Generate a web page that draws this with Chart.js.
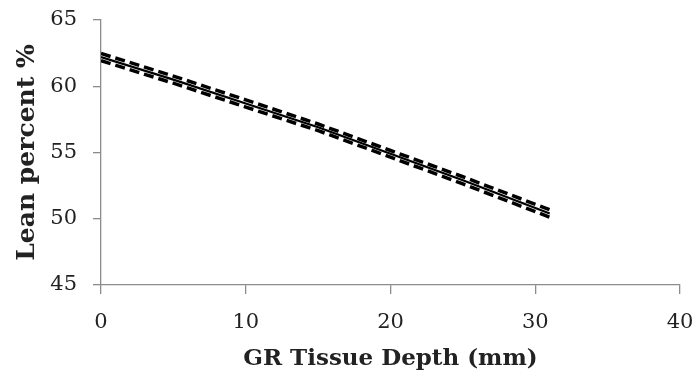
<!DOCTYPE html>
<html>
<head>
<meta charset="utf-8">
<script src="https://cdn.jsdelivr.net/npm/chart.js@4.4.0/dist/chart.umd.min.js"></script>
<style>
html,body{margin:0;padding:0;background:#fff;}
#wrap{width:697px;height:374px;position:relative;}
</style>
</head>
<body>
<div id="wrap"><canvas id="c" width="697" height="374"></canvas></div>
<script>
const depthMm = [0, 5, 10, 15, 20, 25, 31];
const leanFit = [62.2, 60.5, 58.7, 56.9, 54.9, 52.9, 50.4];
const leanUpper = [62.47, 60.77, 58.97, 57.15, 55.15, 53.17, 50.68];
const leanLower = [61.93, 60.23, 58.43, 56.65, 54.65, 52.63, 50.12];
const xTicks = [0, 10, 20, 30, 40];
const yTicks = [45, 50, 55, 60, 65];

const pts = arr => depthMm.map((x, i) => ({x: x, y: arr[i]}));
const axisGray = '#8c8c8c';
const serif = "'DejaVu Serif', serif";

new Chart(document.getElementById('c'), {
  type: 'line',
  data: {
    datasets: [
      {data: pts(leanUpper), borderColor: '#000', borderWidth: 3.5, borderDash: [10, 5], pointRadius: 0, tension: 0},
      {data: pts(leanFit), borderColor: '#000', borderWidth: 2.2, pointRadius: 0, tension: 0},
      {data: pts(leanLower), borderColor: '#000', borderWidth: 3.5, borderDash: [10, 5], pointRadius: 0, tension: 0}
    ]
  },
  options: {
    responsive: false,
    animation: false,
    layout: {padding: {top: 20, right: 17, left: 0, bottom: 0}},
    plugins: {legend: {display: false}, tooltip: {enabled: false}},
    scales: {
      x: {
        type: 'linear', min: 0, max: 40,
        afterBuildTicks: s => { s.ticks = xTicks.map(v => ({value: v})); },
        afterFit: s => { s.height = 89; s.paddingLeft = 0; s.paddingRight = 0; },
        grid: {display: true, drawOnChartArea: false, tickLength: 9, color: axisGray, lineWidth: 1.3},
        border: {color: axisGray, width: 1.3},
        ticks: {color: '#222', font: {family: serif, size: 21}, padding: 16, maxRotation: 0},
        title: {display: true, text: 'GR Tissue Depth (mm)', color: '#222',
                font: {family: serif, size: 23, weight: 'bold'}, padding: {top: 0, bottom: 1}}
      },
      y: {
        type: 'linear', min: 45, max: 65,
        afterBuildTicks: s => { s.ticks = yTicks.map(v => ({value: v})); },
        afterFit: s => { s.width = 101; s.paddingTop = 0; s.paddingBottom = 0; },
        grid: {display: true, drawOnChartArea: false, tickLength: 8, color: axisGray, lineWidth: 1.3},
        border: {color: axisGray, width: 1.3},
        ticks: {color: '#222', font: {family: serif, size: 21}, padding: 16},
        title: {display: true, text: 'Lean percent %', color: '#222',
                font: {family: serif, size: 25, weight: 'bold'}, padding: {top: 12, bottom: 0}}
      }
    }
  }
});
</script>
</body>
</html>
